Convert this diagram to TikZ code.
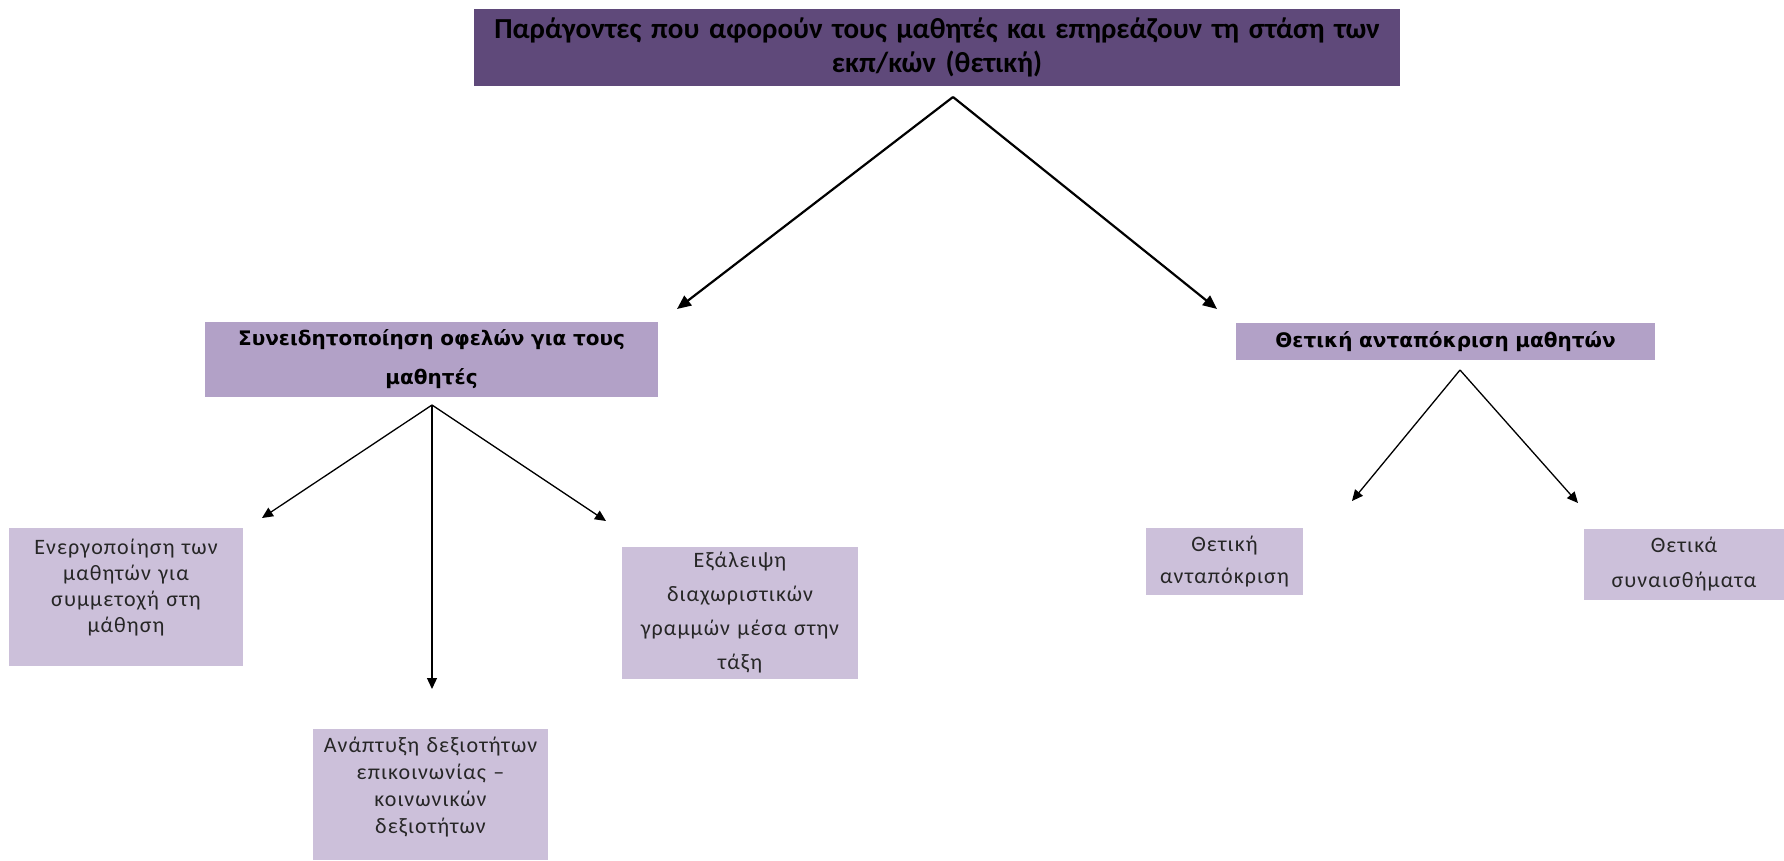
\documentclass[tikz,border=0pt]{standalone}
\usepackage{fontspec}
\setmainfont{Carlito}
\newfontfamily\boxfont{DejaVu Sans}
\newfontfamily\lowfont[LetterSpace=5]{Carlito}
\usetikzlibrary{arrows.meta}
\definecolor{topfill}{HTML}{5F497A}
\definecolor{midfill}{HTML}{B2A1C7}
\definecolor{lowfill}{HTML}{CCC0DA}
\tikzset{
  topbox/.style={fill=topfill, inner sep=0pt, align=center, font=\fontsize{29}{34}\selectfont\bfseries, text=black},
  midbox/.style={fill=midfill, inner sep=0pt, align=center, font=\boxfont\fontsize{20}{39}\selectfont\bfseries, text=black},
  lowbox/.style={fill=lowfill, inner sep=0pt, align=center, text=black!85},
  bigarrow/.style={line width=2.2pt, -{Triangle[length=14pt,width=12pt]}},
  smallarrow/.style={line width=1.3pt, -{Triangle[length=11pt,width=10pt]}}
}
\begin{document}
\begin{tikzpicture}[x=1pt,y=-1pt]
\useasboundingbox (0,0) rectangle (1784,860);
\node[topbox, minimum width=926pt, minimum height=77pt, text width=910pt] (top) at (937,47.5)
  {Παράγοντες που αφορούν τους μαθητές και επηρεάζουν τη στάση των\\ εκπ/κών (θετική)};
\node[midbox, minimum width=453pt, minimum height=75pt, text width=440pt] (lm) at (431.5,359.5)
  {Συνειδητοποίηση οφελών για τους\\ μαθητές};
\node[midbox, minimum width=419pt, minimum height=37pt, text width=410pt] (rm) at (1445.5,341.5)
  {Θετική ανταπόκριση μαθητών};
\node[lowbox, font=\lowfont\fontsize{22}{26}\selectfont, text height=14pt, text depth=100pt, minimum width=234pt, minimum height=138pt, text width=232pt] (ener) at (126,597)
  {Ενεργοποίηση των\\ μαθητών για\\ συμμετοχή στη\\ μάθηση};
\node[lowbox, font=\lowfont\fontsize{22}{27}\selectfont, text height=14pt, text depth=99pt, minimum width=235pt, minimum height=131pt, text width=234pt] (anapt) at (430.5,794.5)
  {Ανάπτυξη δεξιοτήτων\\ επικοινωνίας –\\ κοινωνικών\\ δεξιοτήτων};
\node[lowbox, font=\lowfont\fontsize{22}{34}\selectfont, minimum width=236pt, minimum height=132pt, text width=235pt] (exal) at (740,613)
  {Εξάλειψη\\ διαχωριστικών\\ γραμμών μέσα στην\\ τάξη};
\node[lowbox, font=\lowfont\fontsize{22}{32}\selectfont, minimum width=157pt, minimum height=67pt, text width=156pt] (thet) at (1224.5,561.5)
  {Θετική\\ ανταπόκριση};
\node[lowbox, font=\lowfont\fontsize{22}{35}\selectfont, minimum width=200pt, minimum height=71pt, text width=199pt] (thetika) at (1684,564.5)
  {Θετικά\\ συναισθήματα};
\coordinate (topS) at (953,97);
\coordinate (lmS) at (432,405);
\coordinate (rmS) at (1460,370);
\coordinate (a1) at (677,309);
\coordinate (a2) at (1217,309);
\coordinate (b1) at (262,518);
\coordinate (b2) at (432,689);
\coordinate (b3) at (606,521);
\coordinate (c1) at (1352,501);
\coordinate (c2) at (1578,503);
\draw[bigarrow] (topS) -- (a1);
\draw[bigarrow] (topS) -- (a2);
\draw[smallarrow] (lmS) -- (b1);
\draw[smallarrow] (lmS) -- (b2);
\draw[smallarrow] (lmS) -- (b3);
\draw[smallarrow] (rmS) -- (c1);
\draw[smallarrow] (rmS) -- (c2);
\end{tikzpicture}
\end{document}
